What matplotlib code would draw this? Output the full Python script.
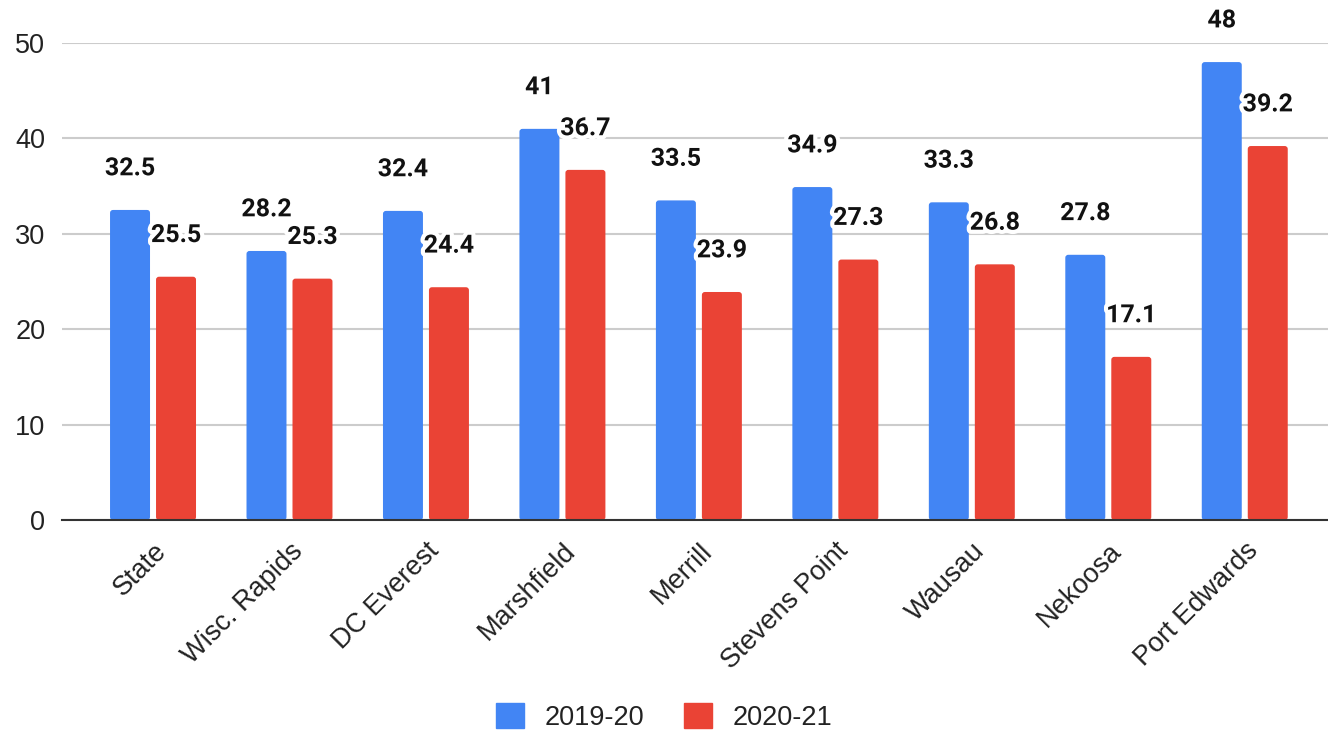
import matplotlib
matplotlib.use("Agg")
import matplotlib.pyplot as plt
import matplotlib.patheffects as pe
from matplotlib.patches import Patch, FancyBboxPatch
import numpy as np

categories = ["State", "Wisc. Rapids", "DC Everest", "Marshfield", "Merrill",
              "Stevens Point", "Wausau", "Nekoosa", "Port Edwards"]
series_names = ["2019-20", "2020-21"]
values_2019 = [32.5, 28.2, 32.4, 41, 33.5, 34.9, 33.3, 27.8, 48]
values_2020 = [25.5, 25.3, 24.4, 36.7, 23.9, 27.3, 26.8, 17.1, 39.2]
yticks = [0, 10, 20, 30, 40, 50]

BLUE = "#4285F4"
RED = "#EA4335"
TXT = "#222222"
AXFONT = "Liberation Sans"
AXSIZE = 19.5

W, H = 1328, 735
fig = plt.figure(figsize=(W / 100, H / 100), dpi=100)
ax = fig.add_axes([62 / W, (H - 520) / H, (W - 62) / W, (520 - 43) / H])

x = np.arange(len(categories))
bw = 0.293
gap = 0.044
off = (bw + gap) / 2

b1 = ax.bar(x - off, values_2019, bw, color=BLUE, zorder=3)
b2 = ax.bar(x + off, values_2020, bw, color=RED, zorder=3)

# rounded top corners
for bars, col in ((b1, BLUE), (b2, RED)):
    for rect in bars:
        rect.set_visible(False)
        fb = FancyBboxPatch((rect.get_x(), rect.get_y()), rect.get_width(), rect.get_height(),
                            boxstyle="round,pad=0,rounding_size=0.022",
                            mutation_aspect=14, facecolor=col, edgecolor="none", zorder=3)
        ax.add_patch(fb)

halo = [pe.withStroke(linewidth=6, foreground="white")]
for bars, vals in ((b1, values_2019), (b2, values_2020)):
    for rect, v in zip(bars, vals):
        ax.annotate(f"{v:g}", (rect.get_x() + rect.get_width() / 2, v),
                    xytext=(0, 30), textcoords="offset points",
                    ha="center", va="center", fontsize=18, fontweight="bold",
                    family="Roboto", color="#111111", path_effects=halo,
                    zorder=5, annotation_clip=False)

ax.set_xlim(-0.667, 8.61)
ax.set_ylim(0, 50)
ax.set_yticks(yticks)
ax.set_yticklabels([str(t) for t in yticks], family=AXFONT, fontsize=AXSIZE, color=TXT)
ax.set_xticks(x)
ax.set_xticklabels(categories, rotation=45, ha="right", rotation_mode="anchor",
                   family=AXFONT, fontsize=AXSIZE, color=TXT)
for lbl in ax.get_xticklabels():
    lbl.set_transform(lbl.get_transform() +
                      matplotlib.transforms.ScaledTranslation(17 / 100, 0, fig.dpi_scale_trans))
ax.tick_params(axis="both", length=0)
ax.tick_params(axis="y", pad=12)
ax.tick_params(axis="x", pad=13)
ax.grid(axis="y", color="#cccccc", linewidth=1.5, zorder=0)
ax.set_axisbelow(True)
for s in ["top", "right", "left"]:
    ax.spines[s].set_visible(False)
ax.spines["bottom"].set_color("#333333")
ax.spines["bottom"].set_linewidth(1.5)
ax.spines["bottom"].set_zorder(4)

handles = [Patch(color=BLUE, label=series_names[0]), Patch(color=RED, label=series_names[1])]
leg = fig.legend(handles=handles, loc="center", bbox_to_anchor=(0.5, (H - 717) / H), ncol=2,
                 frameon=False, prop={"family": AXFONT, "size": AXSIZE},
                 handlelength=1.05, handleheight=1.05, columnspacing=1.45, handletextpad=0.75)
for t in leg.get_texts():
    t.set_color(TXT)

fig.savefig("out.png", dpi=100)
